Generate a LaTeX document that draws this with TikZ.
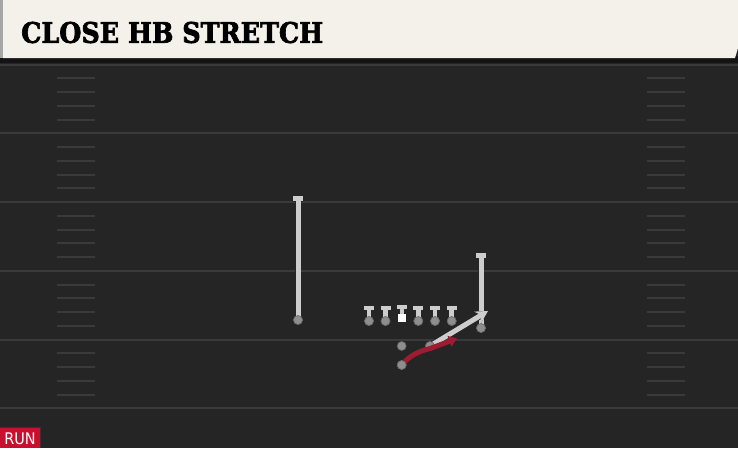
\documentclass[tikz,border=0pt]{standalone}
\usepackage{fontspec}
\usepackage{graphicx}
\usetikzlibrary{arrows.meta,calc}
\newfontfamily\titlefont[FakeBold=2.5]{DejaVu Serif Bold}
\newfontfamily\tagfont{DejaVu Sans Condensed}
\definecolor{field}{HTML}{252525}
\definecolor{yardc}{HTML}{3A3A3A}
\definecolor{hashc}{HTML}{3A3A3A}
\definecolor{cream}{HTML}{F4F1EA}
\definecolor{routec}{HTML}{CDCDCD}
\definecolor{dotc}{HTML}{8E8E8E}
\definecolor{runred}{HTML}{9E1B32}
\definecolor{tagred}{HTML}{C8102E}
\tikzset{
  yard/.style={draw=yardc, line width=2pt},
  hashmark/.style={draw=hashc, line width=2pt},
  route/.style={draw=routec, line width=5pt, preaction={draw=black!85, line width=6.6pt}},
  redroute/.style={draw=runred, line width=5pt},
  player/.style={circle, fill=dotc, draw=black!60, line width=0.6pt, inner sep=0pt, minimum size=9pt},
  centersq/.style={rectangle, fill=white, inner sep=0pt, minimum size=7.5pt},
  blockbar/.style={draw=routec, line width=4.6pt, preaction={draw=black!85, line width=6.2pt}},
}
\begin{document}
\begin{tikzpicture}[x=1pt,y=-1pt]
\useasboundingbox (0,0) rectangle (738,448);
% field
\fill[field] (0,0) rectangle (738,448);
\fill[black!92] (0,56) rectangle (738,63);
% yard lines and hashes
\foreach \k in {0,...,5} {
  \pgfmathsetmacro{\yy}{64.5+68.75*\k}
  \draw[yard] (0,\yy) -- (738,\yy);
}
\foreach \k in {0,...,4} {
  \foreach \j in {1,...,4} {
    \pgfmathsetmacro{\yy}{64.5+68.75*\k+13.75*\j}
    \draw[hashmark] (57,\yy) -- (95,\yy);
    \draw[hashmark] (647,\yy) -- (685,\yy);
  }
}
% header
\fill[cream] (3,0) -- (738,0) -- (738,48) -- (735,58) -- (3,58) -- cycle;
\fill[gray!70] (0,0) rectangle (3,58);
\node[anchor=west, inner sep=0pt] (title) at (21,32.5) {\resizebox{302pt}{21pt}{\titlefont CLOSE HB STRETCH}};
% left receiver
\node[player] (wr) at (298,320) {};
\coordinate (wrend) at (298,198.5);
\draw[route] (wr.center) -- (wrend);
\draw[blockbar] ($(wrend)+(-5,0)$) -- ($(wrend)+(5,0)$);
\draw[draw=routec, line width=5pt] (wr.center) -- ($(wrend)+(0,1.5)$);
\node[player] at (wr) {};
% line
\foreach \x/\n in {369/l1,385.5/l2,418.3/l4,435/l5,451.7/l6} {
  \node[player] (\n) at (\x,321) {};
  \draw[blockbar] (\x,320) -- (\x,308);
  \draw[blockbar] (\x-5,308) -- (\x+5,308);
  \draw[draw=routec, line width=4.6pt] (\x,320) -- (\x,309.5);
}
\node[centersq] (c) at (401.8,318) {};
\draw[blockbar] (c.north) -- (401.8,307);
\draw[blockbar] (396.8,307) -- (406.8,307);
\draw[draw=routec, line width=4.6pt] (c.north) -- (401.8,308.5);
\node[centersq] at (401.8,318) {};
\foreach \n in {l1,l2,l4,l5,l6} { \node[player] at (\n) {}; }
% tight end
\node[player] (te) at (481,328) {};
\coordinate (teend) at (481,255.5);
\draw[route] (te.center) -- (teend);
\draw[blockbar] ($(teend)+(-5,0)$) -- ($(teend)+(5,0)$);
\draw[draw=routec, line width=5pt] (te.center) -- ($(teend)+(0,1.5)$);
\node[player] at (te) {};
% QB
\node[player] (qb) at (401.7,346) {};
% fullback
\node[player] (fb) at (430,346) {};
\coordinate (fbend) at (488,311);
\draw[route, -{Stealth[length=12pt,width=13pt,inset=4pt]}] (fb.center) -- (fbend);
\node[player] at (fb) {};
% halfback
\node[player] (hb) at (401.7,365) {};
\coordinate (hbend) at (457,338.5);
\draw[redroute, -{Triangle[length=8pt,width=11pt]}] (hb.center) .. controls (409,356) and (418,351.5) .. (430,348.5) -- (hbend);
\node[player] at (hb) {};
% tag
\fill[black!80] (0,427) rectangle (41,448);
\fill[tagred] (0,428) rectangle (40,448);
\node[text=white, inner sep=0pt, font=\tagfont\fontsize{16}{16}\selectfont] (tag) at (20,438.5) {RUN};
\end{tikzpicture}
\end{document}
